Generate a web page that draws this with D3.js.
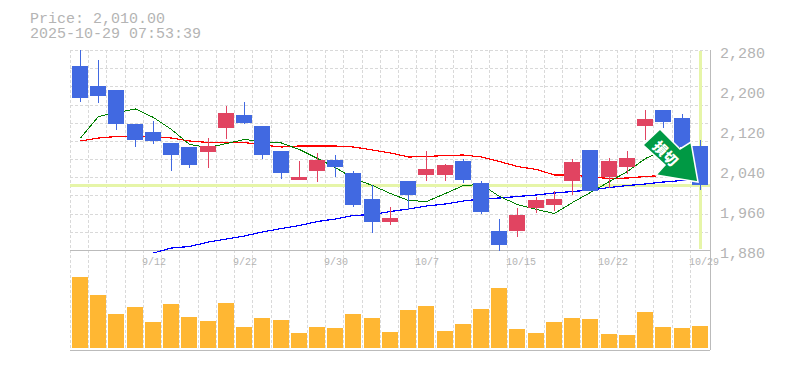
<!DOCTYPE html>
<html><head><meta charset="utf-8">
<script src="https://cdn.jsdelivr.net/npm/d3@7"></script>
<style>html,body{margin:0;padding:0;background:#fff}svg{display:block}</style>
</head><body><svg id="c" width="785" height="370"></svg>
<script>
const titleLines = ["Price: 2,010.00", "2025-10-29 07:53:39"];
const priceTicks = [2280, 2200, 2120, 2040, 1960, 1880];
const dateLabels = ["9/12", "9/22", "9/30", "10/7", "10/15", "10/22", "10/29"];
const dateLabelIndex = [4, 9, 14, 19, 24, 29, 34];
const openP  = [2248,2208,2200,2132,2116,2094,2086,2076,2124,2150,2128,2078,2020,2038,2060,2034,1982,1936,2018,2030,2030,2058,2014,1918,1918,1964,1970,2018,2080,2026,2046,2128,2160,2144,2088];
const closeP = [2184,2188,2132,2100,2098,2070,2050,2088,2154,2134,2070,2034,2026,2060,2046,1970,1936,1944,1990,2042,2050,2020,1956,1890,1950,1980,1982,2056,1998,2058,2064,2142,2136,2086,2010];
const highP  = [2280,2260,2200,2132,2138,2094,2086,2104,2168,2176,2128,2078,2058,2074,2070,2038,2010,1966,2018,2078,2052,2062,2018,1942,1964,1986,1998,2062,2080,2064,2078,2160,2160,2152,2100];
const lowP   = [2176,2174,2120,2086,2092,2038,2044,2044,2102,2132,2062,2022,2020,2016,2026,1966,1914,1930,1960,2018,2018,2014,1952,1878,1906,1954,1958,1990,1998,2004,2032,2100,2124,2086,2000];
const maShort = [2105,2148,2156,2163,2146,2122,2092,2086,2094,2102,2098,2095,2082,2064,2046,2024,2010,1994,1980,1978,1994,2010,2012,1988,1972,1962,1954,1976,1996,2018,2038,2064,2080,2088,2086];
const maMid   = [2099,2105,2108,2108,2107,2105,2099,2096,2096,2096,2091,2087,2089,2089,2089,2087,2081,2075,2067,2068,2070,2071,2067,2058,2048,2042,2031,2031,2027,2024,2025,2028,2030,2032,2034];
const maLong  = [null,null,null,null,1875,1885,1888,1897,1903,1909,1917,1924,1930,1938,1943,1950,1952,1958,1963,1969,1973,1979,1983,1985,1988,1991,1995,1998,2001,2006,2010,2013,2017,2020,2022];
const volume  = [71,53,34,41,26,44,31,27,45,21,30,28,15,21,20,34,30,16,38,42,17,24,39,60,19,15,26,30,29,14,13,36,21,20,22];
const lastPrice = 2010;
const signLabel = "損切";

const idx = d3.range(openP.length);
const x = d3.scaleBand().domain(idx).range([71, 709]);
const left = i => Math.round(x(i)) + 1;
const cx = i => left(i) + 8;
const y = d3.scaleLinear().domain([1880, 2280]).range([250, 50]);
const yV = d3.scaleLinear().domain([0, 100]).range([348, 248]);
const svg = d3.select("#c");
const GREY = "#b4b4b4", GRID = "#d9d9d9", HL = "#e6f5a8";
const FONT = "'Liberation Mono', monospace";

// grid
const grid = svg.append("g").attr("shape-rendering", "crispEdges")
  .attr("stroke", GRID).attr("stroke-dasharray", "3,2");
grid.selectAll("line.v").data(idx).join("line").attr("class", "v")
  .attr("x1", i => left(i) - 1.5).attr("x2", i => left(i) - 1.5)
  .attr("y1", 50).attr("y2", 350);
grid.selectAll("line.h").data(d3.range(0, 11)).join("line").attr("class", "h")
  .attr("x1", 70).attr("x2", 710)
  .attr("y1", k => y(2280) + 0.5 + k * 200 / 11).attr("y2", k => y(2280) + 0.5 + k * 200 / 11);

// highlight cross
const hl = svg.append("g").attr("shape-rendering", "crispEdges").attr("fill", HL);
hl.append("rect").attr("x", 70).attr("width", 640).attr("y", y(lastPrice) - 1).attr("height", 3);
hl.append("rect").attr("x", cx(34) - 1).attr("width", 3).attr("y", 51).attr("height", 198);

// frame
const frame = svg.append("g").attr("shape-rendering", "crispEdges").attr("stroke", "#bbb");
frame.append("line").attr("x1", 70).attr("x2", 710).attr("y1", 250.5).attr("y2", 250.5);
frame.append("line").attr("x1", 70).attr("x2", 710).attr("y1", 350.5).attr("y2", 350.5);
frame.append("line").attr("x1", 710.5).attr("x2", 710.5).attr("y1", 50).attr("y2", 350);

// moving averages
const line = s => d3.line().defined(i => s[i] != null).x(i => cx(i) + 0.5).y(i => y(s[i]) + 0.5)(idx);
[[maLong, "#0000ff", 1.2], [maMid, "#ff0000", 1.2], [maShort, "#008000", 1]].forEach(([s, c, w]) => {
  svg.append("path").attr("d", line(s)).attr("fill", "none").attr("stroke", c)
    .attr("stroke-width", w).attr("shape-rendering", "crispEdges");
});

// candles
const col = i => closeP[i] >= openP[i] ? "#e14461" : "#4169e1";
const cd = svg.append("g").attr("shape-rendering", "crispEdges");
cd.selectAll("rect.w").data(idx).join("rect").attr("class", "w")
  .attr("x", i => left(i) + 8).attr("width", 1)
  .attr("y", i => y(highP[i])).attr("height", i => y(lowP[i]) - y(highP[i]))
  .attr("fill", col);
cd.selectAll("rect.b").data(idx).join("rect").attr("class", "b")
  .attr("x", left).attr("width", 16)
  .attr("y", i => y(Math.max(openP[i], closeP[i])))
  .attr("height", i => Math.abs(y(openP[i]) - y(closeP[i])))
  .attr("fill", col);

// volume
svg.append("g").attr("shape-rendering", "crispEdges").selectAll("rect").data(idx).join("rect")
  .attr("x", left).attr("width", 16)
  .attr("y", i => yV(volume[i])).attr("height", i => yV(0) - yV(volume[i]))
  .attr("fill", "#ffb733");

// axes
const ay = svg.append("g").attr("transform", "translate(710,2.5)")
  .call(d3.axisRight(y).tickValues(priceTicks).tickFormat(d3.format(",")).tickSize(0).tickPadding(10));
ay.select(".domain").remove();
ay.selectAll("text").attr("font-family", FONT).attr("font-size", 15).attr("fill", GREY);

const labelX = d3.scaleOrdinal().domain(dateLabels).range(dateLabelIndex);
dateLabels.forEach(d => {
  svg.append("text").attr("x", cx(labelX(d)) - 11).attr("y", 265)
    .attr("font-family", FONT).attr("font-size", 10).attr("fill", GREY).text(d);
});

// title
svg.selectAll("text.t").data(titleLines).join("text").attr("class", "t")
  .attr("x", 30).attr("y", (d, i) => 23 + i * 15)
  .attr("font-family", FONT).attr("font-size", 15).attr("fill", GREY).text(d => d);

// stop-loss arrow, anchored on the last candle's close
const a = svg.append("g").attr("transform", `translate(${cx(34)},${y(lastPrice)})`);
const shape = [[-40, -56], [-57, -40], [-35, -20], [-44, -10], [-2, -3], [-9, -43], [-20, -36]];
a.append("polygon").attr("points", shape.join(" ")).attr("fill", "#009944")
  .attr("stroke", "#fff").attr("stroke-width", 1.5).attr("stroke-linejoin", "miter");
a.append("text").attr("transform", "translate(-34,-32) rotate(45)")
  .attr("text-anchor", "middle").attr("dominant-baseline", "central")
  .attr("font-family", "'Noto Sans CJK JP'").attr("font-weight", 900).attr("font-size", 14)
  .attr("fill", "#fff").text(signLabel);
</script></body></html>
